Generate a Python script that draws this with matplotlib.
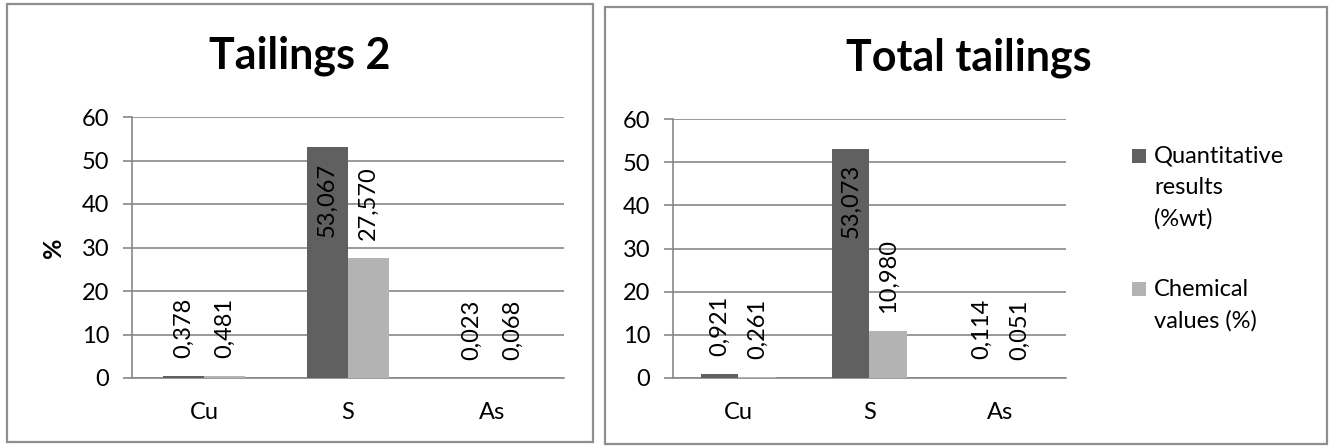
import matplotlib.pyplot as plt
import numpy as np
from matplotlib.patches import Rectangle

plt.rcParams['font.family'] = ['Lato', 'DejaVu Sans']

# datos
elements = ['Cu', 'S', 'As']
series_names = ['Quantitative\nresults\n(%wt)', 'Chemical\nvalues (%)']
tailings2_quant = [0.378, 53.067, 0.023]
tailings2_chem = [0.481, 27.570, 0.068]
total_quant = [0.921, 53.073, 0.114]
total_chem = [0.261, 10.980, 0.051]

DARK = '#606060'
LIGHT = '#b3b3b3'
GRID = '#878787'
FS = 17
W, H = 1330, 446

fig = plt.figure(figsize=(W / 100, H / 100), dpi=100)


def box(x0, y0, x1, y1):
    # rectángulo en píxeles (origen arriba a la izquierda) -> coordenadas de figura
    return [x0 / W, 1 - y1 / H, (x1 - x0) / W, (y1 - y0) / H]


def frame(x0, y0, x1, y1):
    b = box(x0, y0, x1, y1)
    fig.patches.append(Rectangle((b[0], b[1]), b[2], b[3], transform=fig.transFigure,
                                 fill=False, edgecolor='#8e8e8e', linewidth=1.6))


def bar_panel(rect, quant, chem, title, title_xy, ylabel=None):
    ax = fig.add_axes(box(*rect))
    x = np.arange(len(elements))
    bw = 2 / 3.5 / 2
    b1 = ax.bar(x - bw / 2, quant, bw, color=DARK, zorder=3)
    b2 = ax.bar(x + bw / 2, chem, bw, color=LIGHT, zorder=3)
    for bars, vals in ((b1, quant), (b2, chem)):
        for r, v in zip(bars, vals):
            txt = f'{v:.3f}'.replace('.', ',')
            cx = r.get_x() + r.get_width() / 2
            if v > 45:
                ax.annotate(txt, (cx, v), xytext=(0, -11), textcoords='offset points',
                            rotation=90, ha='center', va='top', fontsize=FS, zorder=4)
            else:
                ax.annotate(txt, (cx, v), xytext=(0, 13), textcoords='offset points',
                            rotation=90, ha='center', va='bottom', fontsize=FS, zorder=4)
    ax.set_xlim(-0.5, 2.5)
    ax.set_ylim(0, 60)
    ax.set_yticks(range(0, 61, 10))
    ax.set_xticks(x)
    ax.set_xticklabels(elements)
    ax.yaxis.grid(True, color=GRID, linewidth=1.2, zorder=0)
    ax.set_axisbelow(True)
    for s in ('top', 'right'):
        ax.spines[s].set_visible(False)
    for s in ('left', 'bottom'):
        ax.spines[s].set_color(GRID)
        ax.spines[s].set_linewidth(1.2)
    ax.tick_params(axis='y', length=6.5, width=1.2, color=GRID, labelsize=FS, pad=10)
    ax.tick_params(axis='x', length=0, labelsize=FS, pad=17)
    if ylabel:
        ax.set_ylabel(ylabel, fontsize=FS + 1, fontweight='bold', labelpad=12)
    fig.text(title_xy[0] / W, 1 - title_xy[1] / H, title, fontsize=31,
             fontweight='bold', ha='center', va='center')
    return ax


frame(7, 4, 593, 442)
frame(605, 7, 1327, 444)

bar_panel((132, 117, 564, 378), tailings2_quant, tailings2_chem, 'Tailings 2', (300, 56), ylabel='%')
bar_panel((673, 119, 1066, 378), total_quant, total_chem, 'Total tailings', (969, 58))

# leyenda
for (ys, color, label) in ((156, DARK, series_names[0]), (289, LIGHT, series_names[1])):
    b = box(1132, ys - 7, 1146, ys + 7)
    fig.patches.append(Rectangle((b[0], b[1]), b[2], b[3], transform=fig.transFigure,
                                 facecolor=color, edgecolor='none'))
    fig.text(1154 / W, 1 - (ys - 10) / H, label, fontsize=FS, ha='left', va='top',
             linespacing=1.57)

fig.savefig('out.png', dpi=100)
